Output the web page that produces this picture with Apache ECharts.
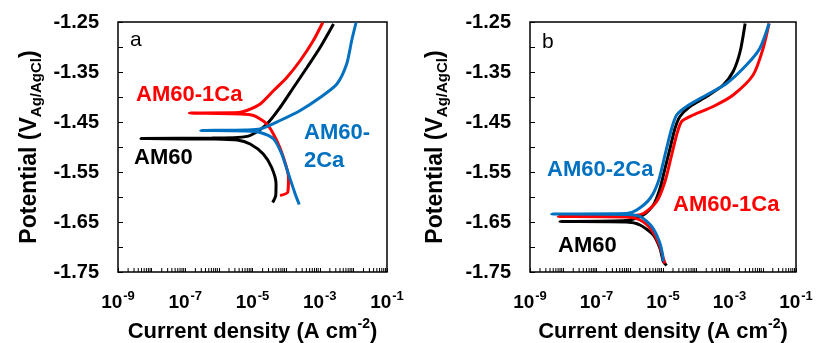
<!DOCTYPE html>
<html>
<head>
<meta charset="utf-8">
<script src="https://cdn.jsdelivr.net/npm/echarts@6/dist/echarts.min.js"></script>
<style>
  html, body { margin: 0; padding: 0; background: #fff; }
  #chart { width: 823px; height: 343px; }
</style>
</head>
<body>
<div id="chart"></div>
<script>
// log10 of current density (A cm-2) and potential (V vs Ag/AgCl)
// panel a
const aAm60LogI = [-4.40, -4.31, -4.30, -4.43, -4.68, -5.07, -5.45, -6.2, -8.32, -6.2, -5.45, -5.07, -4.57, -4.18, -3.78, -3.38, -2.99, -2.59]
const aAm60E = [-1.611, -1.597, -1.574, -1.541, -1.514, -1.494, -1.486, -1.484, -1.483, -1.482, -1.481, -1.477, -1.454, -1.421, -1.381, -1.341, -1.301, -1.254]
const a1CaLogI = [-4.18, -3.95, -3.93, -4.08, -4.28, -4.57, -4.97, -5.4, -6.88, -5.4, -5.17, -4.77, -4.37, -3.98, -3.58, -3.19, -2.91]
const a1CaE = [-1.597, -1.590, -1.561, -1.521, -1.487, -1.454, -1.437, -1.434, -1.432, -1.431, -1.427, -1.414, -1.387, -1.361, -1.327, -1.287, -1.251]
const a2CaLogI = [-3.61, -3.73, -3.93, -4.13, -4.37, -4.77, -5.2, -6.54, -5.2, -4.77, -4.18, -3.58, -2.99, -2.49, -2.20, -2.05, -1.92]
const a2CaE = [-1.615, -1.594, -1.554, -1.514, -1.484, -1.471, -1.468, -1.467, -1.466, -1.464, -1.447, -1.427, -1.401, -1.374, -1.334, -1.287, -1.251]
// panel b
const bAm60LogI = [-4.89, -4.99, -5.09, -5.29, -5.69, -6.1, -8.10, -6.1, -5.59, -5.29, -5.09, -4.94, -4.79, -4.64, -4.49, -4.19, -3.69, -3.19, -2.89, -2.68, -2.53]
const bAm60E = [-1.737, -1.729, -1.703, -1.676, -1.656, -1.650, -1.649, -1.647, -1.636, -1.616, -1.583, -1.543, -1.503, -1.463, -1.439, -1.419, -1.399, -1.376, -1.349, -1.309, -1.253]
const b1CaLogI = [-4.94, -4.99, -5.11, -5.34, -5.69, -6.1, -8.15, -6.1, -5.59, -5.19, -4.94, -4.74, -4.59, -4.44, -4.09, -3.49, -2.89, -2.29, -1.99, -1.81]
const b1CaE = [-1.733, -1.723, -1.696, -1.666, -1.646, -1.640, -1.639, -1.638, -1.633, -1.609, -1.569, -1.516, -1.476, -1.449, -1.436, -1.419, -1.396, -1.356, -1.303, -1.253]
const b2CaLogI = [-5.00, -5.01, -5.11, -5.34, -5.69, -6.1, -8.35, -6.1, -5.79, -5.39, -5.14, -4.94, -4.74, -4.59, -4.29, -3.69, -3.09, -2.49, -2.09, -1.81]
const b2CaE = [-1.729, -1.716, -1.689, -1.659, -1.639, -1.635, -1.634, -1.633, -1.626, -1.603, -1.569, -1.516, -1.463, -1.436, -1.419, -1.396, -1.373, -1.336, -1.303, -1.253]

const xMin = 1e-9
const xMax = 1e-1
const yMin = -1.75
const yMax = -1.25
const yStep = 0.05

const BLACK = '#000000'
const RED = '#ff0000'
const BLUE = '#0070c0'
const FONT = 'Liberation Sans, Arial, sans-serif'

// 2..9 x 10^n minor ticks for the log axes
const minorTicks = []
for (let e = -9; e < -1; e++) {
  for (let k = 2; k <= 9; k++) minorTicks.push([k * Math.pow(10, e), yMin])
}

function pairs(logI, E) {
  return logI.map((v, i) => [Math.pow(10, v), E[i]])
}

const richTick = {
  b: { fontFamily: FONT, fontSize: 19, fontWeight: 'bold', color: '#000', lineHeight: 22, verticalAlign: 'bottom' },
  sup: { fontFamily: FONT, fontSize: 13, fontWeight: 'bold', color: '#000', lineHeight: 22, verticalAlign: 'top', padding: [0, 0, 0, 1] },
}

function makeX(gi) {
  return {
    type: 'log',
    logBase: 10,
    gridIndex: gi,
    min: xMin,
    max: xMax,
    splitNumber: 8,
    name: '{b|Current density (A cm}{sup|-2}{b|)}',
    nameLocation: 'middle',
    nameGap: 45,
    nameTextStyle: { rich: {
      b: { fontFamily: FONT, fontSize: 22, fontWeight: 'bold', color: '#000', lineHeight: 26, verticalAlign: 'bottom' },
      sup: { fontFamily: FONT, fontSize: 14, fontWeight: 'bold', color: '#000', lineHeight: 26, verticalAlign: 'top' },
    } },
    axisLine: { show: false },
    axisTick: { show: true, inside: true, length: 4, lineStyle: { color: '#000', width: 1 } },
    axisLabel: {
      margin: 18,
      formatter: (v) => {
        const e = Math.round(Math.log10(v))
        return Math.abs(e) % 2 === 1 ? '{b|10}{sup|' + e + '}' : ''
      },
      rich: richTick,
    },
    splitLine: { show: false },
  }
}

function makeY(gi, gap) {
  return {
    type: 'value',
    gridIndex: gi,
    min: yMin,
    max: yMax,
    interval: yStep,
    name: '{b|Potential (V}{sub|Ag/AgCl}{b|)}',
    nameLocation: 'middle',
    nameGap: gap,
    nameTextStyle: { rich: {
      b: { fontFamily: FONT, fontSize: 23, fontWeight: 'bold', color: '#000', lineHeight: 26, verticalAlign: 'top' },
      sub: { fontFamily: FONT, fontSize: 15, fontWeight: 'bold', color: '#000', lineHeight: 26, verticalAlign: 'bottom' },
    } },
    axisLine: { show: false },
    axisTick: { show: true, inside: true, length: 5, lineStyle: { color: '#000', width: 1 } },
    axisLabel: {
      margin: 19,
      fontFamily: FONT,
      fontSize: 20,
      fontWeight: 'bold',
      color: '#000',
      formatter: (v) => (Math.round((v - yMin) / yStep) % 2 === 0 ? v.toFixed(2) : ''),
    },
    splitLine: { show: false },
  }
}

function curve(gi, logI, E, color) {
  return {
    type: 'line',
    xAxisIndex: gi,
    yAxisIndex: gi,
    data: pairs(logI, E),
    smooth: 0.25,
    showSymbol: false,
    lineStyle: { color: color, width: 3 },
    itemStyle: { color: color },
    silent: true,
    animation: false,
  }
}

function tickSeries(gi) {
  return {
    type: 'custom',
    xAxisIndex: gi,
    yAxisIndex: gi,
    data: minorTicks,
    silent: true,
    animation: false,
    renderItem: (params, api) => {
      const p = api.coord([api.value(0), api.value(1)])
      return {
        type: 'line',
        shape: { x1: p[0], y1: p[1], x2: p[0], y2: p[1] - 4 },
        style: { stroke: '#000', lineWidth: 1 },
      }
    },
  }
}

function label(text, x, y, color, size, weight, lh) {
  return {
    type: 'text',
    left: x,
    top: y,
    style: {
      text: text,
      fill: color,
      font: (weight || 'bold') + ' ' + (size || 22) + 'px ' + FONT,
      lineHeight: lh || size || 22,
    },
  }
}

const chart = echarts.init(document.getElementById('chart'), null, { renderer: 'canvas' })
chart.setOption({
  backgroundColor: '#fff',
  animation: false,
  grid: [
    { left: 118, top: 22, width: 269, height: 250, outerBoundsMode: 'none', containLabel: false, show: true, borderColor: '#000', borderWidth: 1.5, backgroundColor: 'transparent' },
    { left: 530, top: 22, width: 266, height: 250, outerBoundsMode: 'none', containLabel: false, show: true, borderColor: '#000', borderWidth: 1.5, backgroundColor: 'transparent' },
  ],
  xAxis: [makeX(0), makeX(1)],
  yAxis: [makeY(0, 74), makeY(1, 80)],
  series: [
    tickSeries(0),
    tickSeries(1),
    curve(0, aAm60LogI, aAm60E, BLACK),
    curve(0, a1CaLogI, a1CaE, RED),
    curve(0, a2CaLogI, a2CaE, BLUE),
    curve(1, bAm60LogI, bAm60E, BLACK),
    curve(1, b1CaLogI, b1CaE, RED),
    curve(1, b2CaLogI, b2CaE, BLUE),
  ],
  graphic: [
    label('a', 130, 30, '#000', 21, 'normal'),
    label('b', 542, 32, '#000', 21, 'normal'),
    label('AM60-1Ca', 136, 84, RED, 22),
    label('AM60', 134, 147, BLACK, 22),
    label('AM60-\n2Ca', 304, 119, BLUE, 22, 'bold', 28),
    label('AM60-2Ca', 547, 159, BLUE, 22),
    label('AM60-1Ca', 673, 194, RED, 22),
    label('AM60', 558, 235, BLACK, 22),
  ],
})
</script>
</body>
</html>
